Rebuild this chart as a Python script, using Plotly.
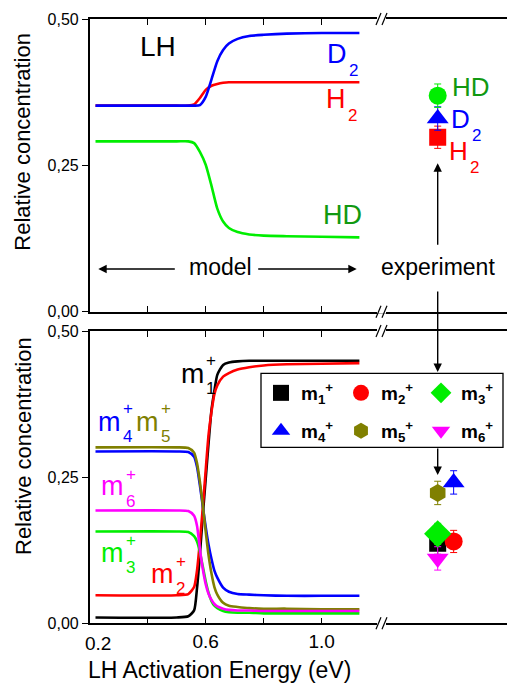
import plotly.graph_objects as go

W, H = 507, 688
FONT = "Liberation Sans, Arial, sans-serif"

# ---------------- data ----------------
# top panel (LH model, neutral molecules)
x_top = [0.22, 0.50, 0.54, 0.56, 0.58, 0.60, 0.62, 0.64, 0.66, 0.68, 0.71, 0.75, 0.80, 0.88, 1.00, 1.13]
h2_model = [0.352, 0.352, 0.352, 0.354, 0.365, 0.379, 0.386, 0.389, 0.391, 0.392, 0.392, 0.392, 0.392, 0.392, 0.392, 0.392]
d2_model = [0.352, 0.352, 0.352, 0.352, 0.353, 0.367, 0.397, 0.428, 0.447, 0.458, 0.466, 0.471, 0.473, 0.475, 0.476, 0.476]
hd_model = [0.291, 0.291, 0.291, 0.288, 0.273, 0.251, 0.215, 0.176, 0.154, 0.143, 0.136, 0.132, 0.130, 0.129, 0.128, 0.127]

# top panel experiment
x_exp_top = 1.40
h2_exp, d2_exp, hd_exp = 0.298, 0.330, 0.369
h2_err, d2_err, hd_err = 0.019, 0.020, 0.020

# bottom panel (ions m1+ .. m6+)
x_bot = [0.22, 0.50, 0.54, 0.56, 0.57, 0.58, 0.59, 0.60, 0.61, 0.62, 0.63, 0.64, 0.66, 0.68, 0.71, 0.75, 0.80, 0.88, 1.00, 1.13]
m1_model = [0.010, 0.010, 0.012, 0.022, 0.060, 0.118, 0.185, 0.247, 0.309, 0.365, 0.398, 0.425, 0.442, 0.446, 0.448, 0.449, 0.449, 0.449, 0.449, 0.449]
m2_model = [0.048, 0.048, 0.050, 0.062, 0.090, 0.140, 0.198, 0.262, 0.323, 0.362, 0.392, 0.407, 0.422, 0.428, 0.434, 0.438, 0.441, 0.443, 0.444, 0.445]
m3_model = [0.157, 0.157, 0.156, 0.149, 0.140, 0.122, 0.097, 0.072, 0.052, 0.038, 0.030, 0.026, 0.021, 0.019, 0.018, 0.018, 0.017, 0.017, 0.017, 0.017]
m4_model = [0.294, 0.294, 0.293, 0.285, 0.268, 0.236, 0.200, 0.165, 0.134, 0.110, 0.090, 0.078, 0.061, 0.054, 0.050, 0.049, 0.048, 0.047, 0.047, 0.047]
m5_model = [0.301, 0.301, 0.300, 0.292, 0.274, 0.242, 0.202, 0.157, 0.116, 0.085, 0.062, 0.049, 0.035, 0.030, 0.028, 0.026, 0.025, 0.025, 0.024, 0.024]
m6_model = [0.193, 0.193, 0.192, 0.184, 0.167, 0.127, 0.093, 0.067, 0.050, 0.040, 0.033, 0.029, 0.025, 0.023, 0.022, 0.022, 0.021, 0.021, 0.021, 0.021]

ion_names = ["m1", "m2", "m3", "m4", "m5", "m6"]
ion_exp_x = [1.40, 1.455, 1.40, 1.455, 1.40, 1.40]
ion_exp_y = [0.137, 0.140, 0.153, 0.241, 0.223, 0.111]
ion_exp_err = [0.019, 0.019, 0.018, 0.020, 0.020, 0.020]

y_tickvals = [0.0, 0.25, 0.5]
y_ticktext = ["0,00", "0,25", "0,50"]
x_tickvals = [0.2, 0.4, 0.6, 0.8, 1.0]
x_ticktext = ["", "", "0.6", "", "1.0"]

# ---------------- styles ----------------
BLUE, RED, GREEN, BLACK = "#0000ff", "#ff0000", "#00ee00", "#000000"
OLIVE, MAGENTA, DKGREEN = "#808000", "#ff00ff", "#119911"
ion_colors = [BLACK, RED, GREEN, BLUE, OLIVE, MAGENTA]
ion_symbols = ["square", "circle", "diamond", "triangle-up", "hexagon", "triangle-down"]
ion_sizes = [17, 18, 21, 19, 18, 19]


def px(x):
    return x / W


def py(y):
    return 1 - y / H


fig = go.Figure()

# top curves
for yv, col in [(h2_model, RED), (hd_model, GREEN), (d2_model, BLUE)]:
    fig.add_trace(go.Scatter(x=x_top, y=yv, mode="lines", xaxis="x", yaxis="y",
                             line=dict(color=col, width=2.6, shape="spline", smoothing=0.6),
                             showlegend=False, hoverinfo="skip"))

# top experiment points
for val, err, col, sym, sz in [(h2_exp, h2_err, RED, "square", 17),
                               (d2_exp, d2_err, BLUE, "triangle-up", 19),
                               (hd_exp, hd_err, GREEN, "circle", 18)]:
    fig.add_trace(go.Scatter(x=[x_exp_top], y=[val], mode="markers", xaxis="x", yaxis="y",
                             marker=dict(color=col, symbol=sym, size=sz, line=dict(width=0)),
                             error_y=dict(type="data", array=[err], color=col, thickness=1, width=3.5),
                             showlegend=False))

# bottom curves
for yv, col in zip([m1_model, m2_model, m3_model, m4_model, m5_model, m6_model], ion_colors):
    fig.add_trace(go.Scatter(x=x_bot, y=yv, mode="lines", xaxis="x2", yaxis="y2",
                             line=dict(color=col, width=2.6, shape="spline", smoothing=0.6),
                             showlegend=False, hoverinfo="skip"))

# bottom experiment points (draw order chosen for overlap, legend order by rank)
draw_order = [0, 1, 3, 4, 5, 2]
for i in draw_order:
    nm = ion_names[i]
    fig.add_trace(go.Scatter(x=[ion_exp_x[i]], y=[ion_exp_y[i]], mode="markers", xaxis="x2", yaxis="y2",
                             marker=dict(color=ion_colors[i], symbol=ion_symbols[i], size=ion_sizes[i],
                                         line=dict(width=0)),
                             error_y=dict(type="data", array=[ion_exp_err[i]], color=ion_colors[i],
                                          thickness=1, width=3.5),
                             name="<b>m<sub>%s</sub><sup>+</sup></b>" % nm[1],
                             legend="legend" if i < 3 else "legend2",
                             legendrank=i + 1, showlegend=True))

# ---------------- axes ----------------
xr = [0.2, 0.2 + (W - 89.7) / 290.0]
common_x = dict(range=xr, showline=True, linecolor="black", linewidth=1.5, mirror="ticks",
                ticks="inside", ticklen=6, tickwidth=1.2, tickcolor="black",
                showgrid=False, zeroline=False, tickvals=x_tickvals, domain=[px(89.7), 1.0])
common_y = dict(range=[0, 0.5], showline=True, linecolor="black", linewidth=1.5,
                ticks="outside", ticklen=6, tickwidth=1.2, tickcolor="black",
                showgrid=False, zeroline=False, tickvals=y_tickvals, ticktext=y_ticktext,
                tickfont=dict(size=16, family=FONT, color="black"))

legend_common = dict(orientation="h", x=px(261), xanchor="left", yanchor="top",
                     bgcolor="rgba(0,0,0,0)", borderwidth=0, entrywidth=35, entrywidthmode="pixels",
                     font=dict(size=19, family=FONT, color="black"), itemclick=False)

fig.update_layout(
    width=W, height=H, margin=dict(l=0, r=0, t=0, b=0, autoexpand=False),
    paper_bgcolor="white", plot_bgcolor="rgba(0,0,0,0)",
    font=dict(family=FONT, color="black"),
    xaxis=dict(**common_x, anchor="y", showticklabels=False),
    yaxis=dict(**common_y, anchor="x", domain=[py(311.7), py(19)]),
    xaxis2=dict(**common_x, anchor="y2", ticktext=x_ticktext,
                tickfont=dict(size=19, family=FONT, color="black")),
    yaxis2=dict(**common_y, anchor="x2", domain=[py(623.3), py(331)]),
    legend=dict(**legend_common, y=py(374)),
    legend2=dict(**legend_common, y=py(412)),
)

ann = []
shapes = []


def text(t, x, y, size, color="black", xanchor="center", yanchor="middle", angle=0):
    ann.append(dict(text=t, x=px(x), y=py(y), xref="paper", yref="paper", showarrow=False,
                    xanchor=xanchor, yanchor=yanchor, textangle=angle,
                    font=dict(size=size, color=color, family=FONT)))


def label(main, x_right, y_mid, color, size, sup=None, y_sup=None, sub=None, y_sub=None, small=17):
    text(main, x_right, y_mid, size, color, xanchor="right")
    if sup is not None:
        text(sup, x_right - 2, y_sup, small, color, xanchor="left")
    if sub is not None:
        text(sub, x_right - 2, y_sub, small, color, xanchor="left")


def arrow(x_head, y_head, dx, dy):
    ann.append(dict(text="", x=px(x_head), y=py(y_head), xref="paper", yref="paper",
                    showarrow=True, ax=dx, ay=dy, axref="pixel", ayref="pixel",
                    arrowhead=2, arrowsize=1.2, arrowwidth=1.4, arrowcolor="black", standoff=0))


# axis titles
text("Relative concentration", 23, 141.7, 22, angle=-90)
text("Relative concentration", 23, 446, 22, angle=-90)
text("LH Activation Energy (eV)", 219, 670, 23)
text("0.2", 98, 643, 19)

# top panel labels
text("LH", 157.5, 46, 28)
label("D", 349, 54, BLUE, 27, sub="2", y_sub=71)
label("H", 348, 99, RED, 27, sub="2", y_sub=116)
text("HD", 342.5, 215, 27, DKGREEN)
text("HD", 450, 87, 26, DKGREEN, xanchor="left")
label("D", 472, 119, BLUE, 26, sub="2", y_sub=135)
label("H", 470, 151, RED, 26, sub="2", y_sub=167)
text("model", 220, 267, 23)
text("experiment", 437.5, 267, 23)
arrow(98.3, 269, 78, 0)
arrow(356.7, 269, -100, 0)
arrow(437.7, 163.3, 0, 83)
arrow(437.7, 372, 0, -82)
arrow(437.7, 475, 0, -28)

# bottom panel labels
label("m", 206, 373, BLACK, 28, sup="+", y_sup=360, sub="1", y_sub=388)
label("m", 123, 422, BLUE, 27, sup="+", y_sup=409, sub="4", y_sub=436)
label("m", 161, 422, OLIVE, 27, sup="+", y_sup=409, sub="5", y_sub=436)
label("m", 126, 486, MAGENTA, 27, sup="+", y_sup=474, sub="6", y_sub=501)
label("m", 126, 553, GREEN, 27, sup="+", y_sup=540, sub="3", y_sub=567)
label("m", 176, 574, RED, 27, sup="+", y_sup=561, sub="2", y_sub=588)

# legend box
shapes.append(dict(type="rect", xref="paper", yref="paper", x0=px(261), x1=px(503),
                   y0=py(447.3), y1=py(373.3), line=dict(color="black", width=1.3),
                   fillcolor="rgba(0,0,0,0)", layer="above"))

# axis break marks
for yb in [19, 311.7, 331, 623.3]:
    shapes.append(dict(type="rect", xref="paper", yref="paper", x0=px(377), x1=px(386),
                       y0=py(yb + 2), y1=py(yb - 2), line=dict(width=0), fillcolor="white", layer="above"))
    for xo in [376, 382]:
        shapes.append(dict(type="line", xref="paper", yref="paper", x0=px(xo), y0=py(yb + 6),
                           x1=px(xo + 5), y1=py(yb - 6), line=dict(color="black", width=1.2), layer="above"))

fig.update_layout(annotations=ann, shapes=shapes)
fig.write_html("out.html", config={"displayModeBar": False},
               post_script="document.body.style.margin='0';document.body.style.padding='0';"
                           "document.documentElement.style.overflow='hidden';")
